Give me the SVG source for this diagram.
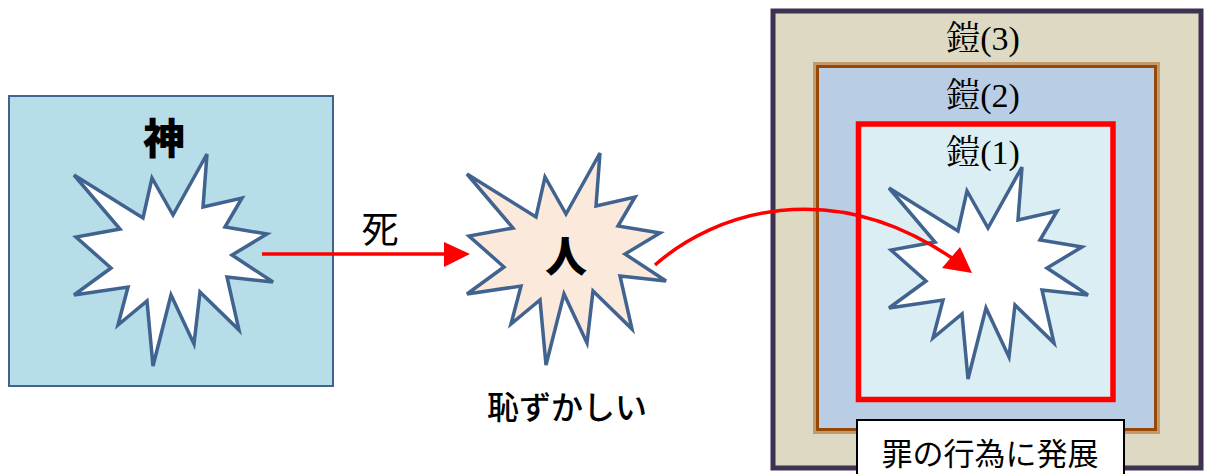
<svg xmlns="http://www.w3.org/2000/svg" width="1205" height="474" viewBox="0 0 1205 474">
<style>
.burst{stroke:#41638f;stroke-width:3.5;stroke-linejoin:miter}
.jp{font-family:"Noto Sans CJK JP",sans-serif;fill:#000}
.yoroi{font-family:"Liberation Serif","Noto Serif CJK JP","Noto Sans CJK JP",serif;font-size:34px;fill:#000;text-anchor:middle}
.red{stroke:#ff0000;stroke-width:3.5;fill:none}
</style>
<defs>
<path id="burstShape" d="M74,175 L143,218 L152,178 L173,215 L207,154 L203,207 L242,198 L225,227 L267,234 L232,255 L273,282 L227,277 L239,330 L200,292 L194,344 L171,295 L153,366 L147,301 L118,325 L128,287 L74,295 L111,268 L76,237 L120,229 Z"/>
</defs>
<rect width="1205" height="474" fill="#ffffff"/>

<g id="kami">
<rect x="9" y="96" width="324" height="290" fill="#b7dde8" stroke="#41638f" stroke-width="2"/>
<text class="jp" x="164" y="154" font-size="42" font-weight="900" text-anchor="middle">神</text>
<use href="#burstShape" class="burst" fill="#ffffff"/>
</g>

<g id="hito">
<use href="#burstShape" class="burst" fill="#fbe9db" transform="translate(393,-1)"/>
<text class="jp" x="566" y="272" font-size="42" font-weight="900" text-anchor="middle">人</text>
<text class="jp" x="567" y="419" font-size="32" font-weight="500" text-anchor="middle">恥ずかしい</text>
</g>

<g id="yoroi3">
<rect x="773" y="11" width="428" height="457" fill="#ddd9c3" stroke="#3f3151" stroke-width="5"/>
<text class="yoroi" x="983" y="50">鎧(3)</text>
</g>

<g id="yoroi2">
<rect x="814.5" y="63.5" width="344" height="369" fill="#b9cde5" stroke="#c49a6c" stroke-width="3"/>
<rect x="817.5" y="66.5" width="338" height="363" fill="none" stroke="#984806" stroke-width="3"/>
<text class="yoroi" x="983" y="107">鎧(2)</text>
</g>

<g id="yoroi1">
<rect x="858.5" y="124" width="254.5" height="275.5" fill="#dbeef3" stroke="#ff0000" stroke-width="5.5"/>
<text class="yoroi" x="983" y="164">鎧(1)</text>
<use href="#burstShape" class="burst" fill="#ffffff" transform="translate(815,13)"/>
</g>

<g id="label">
<rect x="857" y="420" width="267" height="70" fill="#ffffff" stroke="#000000" stroke-width="2"/>
<text class="jp" x="990" y="465" font-size="31" text-anchor="middle">罪の行為に発展</text>
</g>

<g id="connectors">
<line class="red" x1="262" y1="254" x2="446" y2="254"/>
<polygon points="444,242 470,254 444,267" fill="#ff0000"/>
<text class="jp" x="380" y="243" font-size="37" text-anchor="middle">死</text>
<path class="red" d="M655,265 C715,212 830,175 952,258" stroke-width="4"/>
<polygon points="972,273 942,268 960,247" fill="#ff0000"/>
</g>
</svg>
